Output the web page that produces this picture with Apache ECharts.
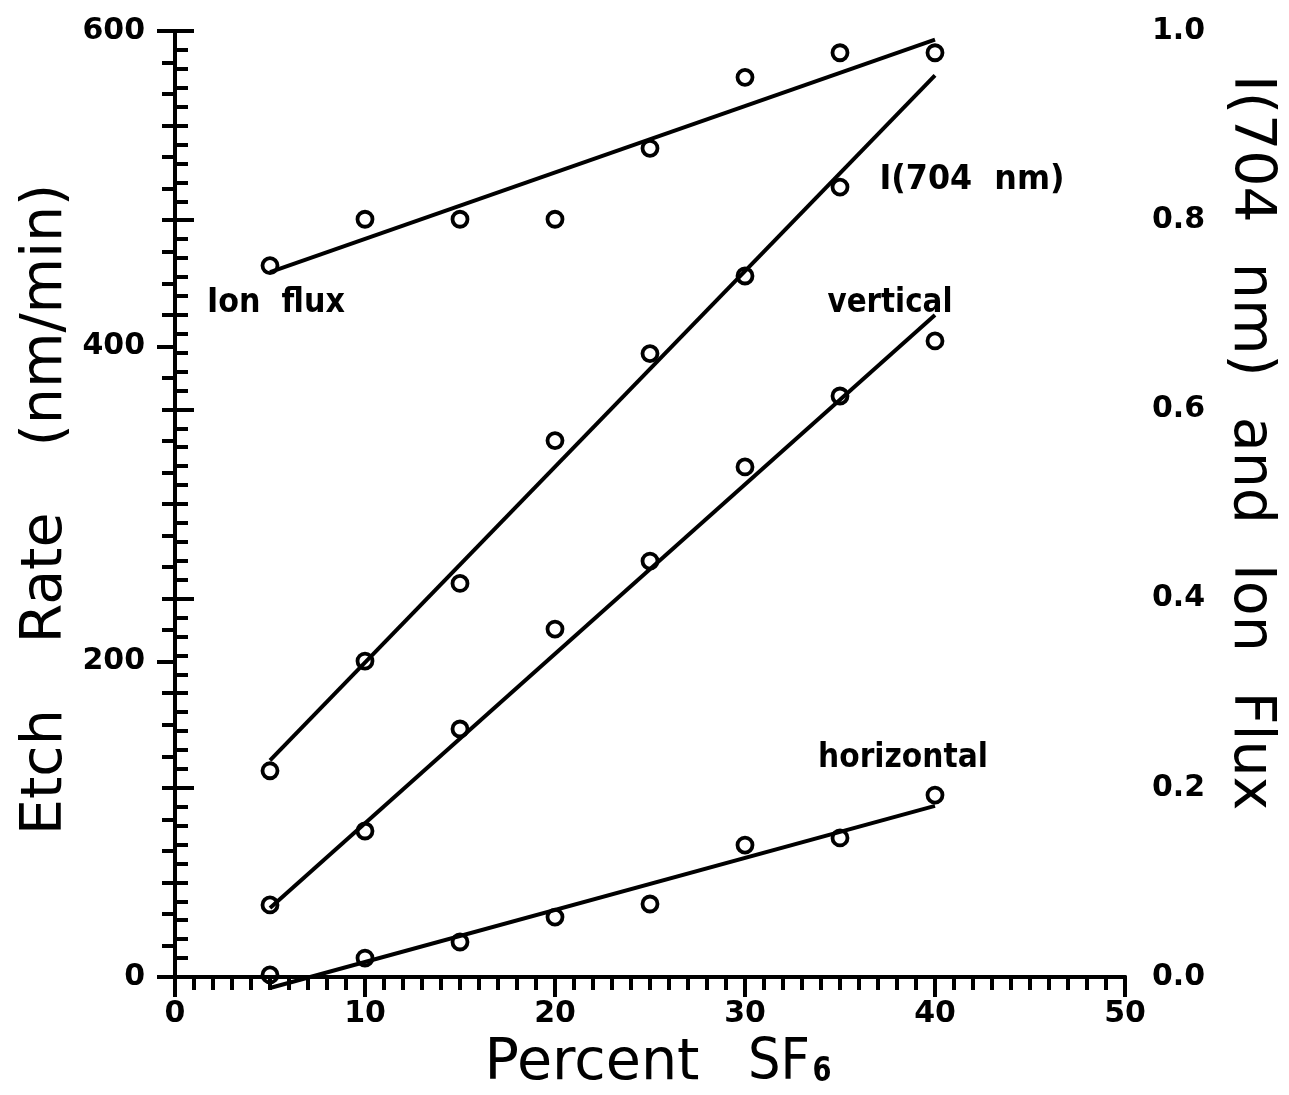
<!DOCTYPE html>
<html>
<head>
<meta charset="utf-8">
<script src="https://cdn.jsdelivr.net/npm/echarts@6/dist/echarts.min.js"></script>
<style>
  html, body { margin: 0; padding: 0; background: #fff; }
  #chart { width: 1289px; height: 1095px; }
</style>
</head>
<body>
<div id="chart"></div>
<script>
// Percent SF6 in the feed gas
const sf6 = [5, 10, 15, 20, 25, 30, 35, 40];

// Right-axis quantities (normalised)
const ionFlux = [0.752, 0.801, 0.801, 0.801, 0.876, 0.951, 0.977, 0.977];
const i704 = [0.218, 0.334, 0.416, 0.567, 0.659, 0.741, 0.835];

// Left-axis etch rates (nm/min)
const verticalRate = [45.7, 92.6, 157.3, 220.7, 263.8, 323.5, 368.5, 403.4];
const horizontalRate = [1.3, 12, 22.2, 38, 46.3, 83.7, 88.2, 115.4];

// Straight-line fits, evaluated at the ends of the measured range
const fitX = [5, 40];
const ionFluxFit = [0.745, 0.991];
const i704Fit = [0.229, 0.953];
const verticalFit = [43.8, 419.9];
const horizontalFit = [-7, 108.5];

const pair = (xs, ys) => ys.map((v, i) => [xs[i], v]);

const FONT = '"DejaVu Sans"';
const INK = '#000';

// Measure a string so that a word can be stretched/condensed to a given run length
const measureCtx = document.createElement('canvas').getContext('2d');
function textWidth(text, font) {
  measureCtx.font = font;
  return measureCtx.measureText(text).width;
}
// Text element centred at (cx, cy); optionally squeezed along its baseline to span `len` pixels
function fittedText(text, font, cx, cy, len, rotation) {
  return {
    type: 'text', x: cx, y: cy, rotation: rotation || 0,
    scaleX: len ? len / textWidth(text, font) : 1,
    style: { text: text, font: font, fill: INK, textAlign: 'center', textVerticalAlign: 'middle' },
    z: 10
  };
}
// Words laid out one after another along a vertical run, starting at `start`
// and advancing by each word's natural width plus `gap` (dir = -1 upwards, +1 downwards)
function wordRun(words, font, cx, start, gap, dir) {
  const out = [];
  let pos = start;
  words.forEach(w => {
    const len = textWidth(w, font);
    out.push(fittedText(w, font, cx, pos + dir * len / 2, 0, dir < 0 ? Math.PI / 2 : -Math.PI / 2));
    pos += dir * (len + gap);
  });
  return out;
}

const pointSeries = (data, yIdx) => ({
  type: 'scatter',
  yAxisIndex: yIdx,
  data: data,
  symbol: 'circle',
  symbolSize: 15,
  itemStyle: { color: 'rgba(255,255,255,0)', borderColor: INK, borderWidth: 3.8, opacity: 1 },
  z: 4
});
const fitSeries = (data, yIdx) => ({
  type: 'line',
  yAxisIndex: yIdx,
  data: data,
  symbol: 'none',
  clip: false,
  lineStyle: { color: INK, width: 4 },
  z: 3
});

const chart = echarts.init(document.getElementById('chart'), null, { renderer: 'canvas' });

const tickLabel = { color: INK, fontFamily: 'DejaVu Sans', fontWeight: 'bold', fontSize: 30 };
const tickStyle = { color: INK, width: 4 };

const TITLE_FONT = '57px ' + FONT;
const NOTE_FONT = 'bold 34px ' + FONT;

chart.setOption({
  animation: false,
  backgroundColor: '#fff',
  grid: { left: 175, right: 164, top: 31, bottom: 118, containLabel: false, outerBoundsMode: 'none' },
  xAxis: [
    {
      type: 'value', min: 0, max: 50, interval: 10, position: 'bottom',
      axisLine: { lineStyle: tickStyle },
      axisTick: { inside: false, length: 20, lineStyle: tickStyle },
      minorTick: { show: true, splitNumber: 10, length: 13, lineStyle: tickStyle },
      splitLine: { show: false },
      axisLabel: Object.assign({ margin: 22 }, tickLabel)
    },
    {
      type: 'value', min: 0, max: 50, position: 'top',
      axisLine: { lineStyle: tickStyle },
      axisTick: { show: false }, axisLabel: { show: false }, splitLine: { show: false }
    }
  ],
  yAxis: [
    {
      type: 'value', min: 0, max: 600, interval: 200, position: 'left',
      axisLine: { show: true, lineStyle: tickStyle },
      axisTick: { show: true, inside: false, length: 18, lineStyle: tickStyle },
      minorTick: { show: true, splitNumber: 10, length: 13, lineStyle: tickStyle },
      splitLine: { show: false },
      axisLabel: Object.assign({ margin: 30 }, tickLabel)
    },
    {
      type: 'value', min: 0, max: 1, interval: 0.2, position: 'right',
      axisLine: { show: true, lineStyle: tickStyle },
      axisTick: { show: true, inside: false, length: 19, lineStyle: tickStyle },
      minorTick: { show: true, splitNumber: 10, length: 13, lineStyle: tickStyle },
      splitLine: { show: false },
      axisLabel: Object.assign({ margin: 27, formatter: v => v.toFixed(1) }, tickLabel)
    }
  ],
  series: [
    fitSeries(pair(fitX, ionFluxFit), 1),
    pointSeries(pair(sf6, ionFlux), 1),
    fitSeries(pair(fitX, i704Fit), 1),
    pointSeries(pair(sf6, i704), 1),
    fitSeries(pair(fitX, verticalFit), 0),
    pointSeries(pair(sf6, verticalRate), 0),
    fitSeries(pair(fitX, horizontalFit), 0),
    pointSeries(pair(sf6, horizontalRate), 0)
  ],
  graphic: [].concat(
    // left axis title, reading upwards from the bottom
    wordRun(['Etch', 'Rate', '(nm/min)'], TITLE_FONT, 46, 835, 66, -1),
    // right axis title, reading downwards from the top
    wordRun(['I(704', 'nm)', 'and', 'Ion', 'Flux'], TITLE_FONT, 1250, 75, 40, 1),
    [
      // bottom axis title
      fittedText('Percent', TITLE_FONT, 592, 1064, 215),
      fittedText('SF', TITLE_FONT, 779, 1064, 62),
      fittedText('6', 'bold 34px ' + FONT, 822, 1072, 19),
      // curve annotations
      fittedText('Ion  flux', NOTE_FONT, 276, 303, 138),
      fittedText('I(704  nm)', NOTE_FONT, 972, 180, 185),
      fittedText('vertical', NOTE_FONT, 890, 303, 125),
      fittedText('horizontal', NOTE_FONT, 903, 758, 170)
    ]
  )
});
</script>
</body>
</html>
